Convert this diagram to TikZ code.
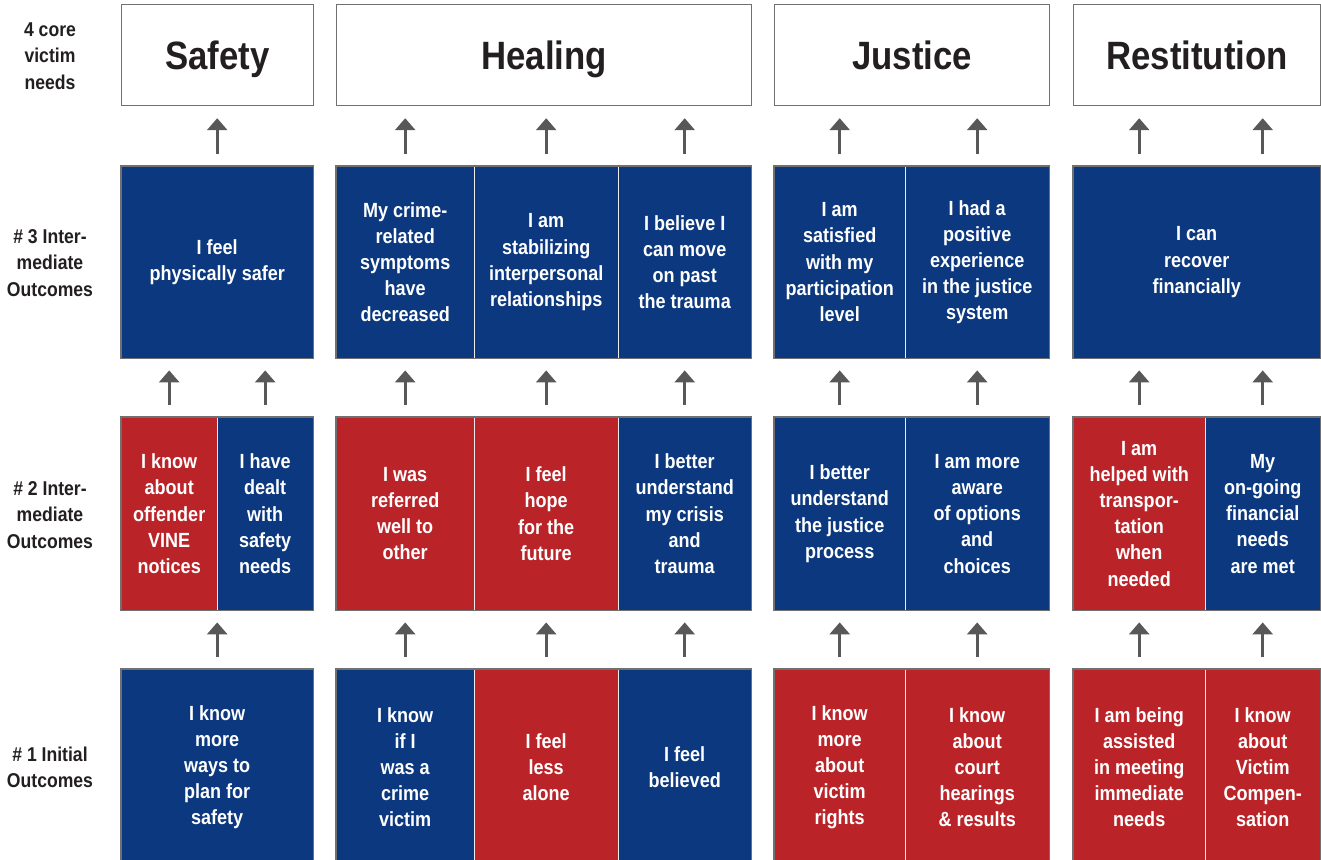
\documentclass[tikz,border=0pt]{standalone}
\usepackage{fontspec}
\setmainfont{Liberation Sans}[FakeStretch=0.88]
\usetikzlibrary{arrows.meta}
\definecolor{vblue}{RGB}{11,56,126}
\definecolor{vred}{RGB}{186,36,41}
\definecolor{bordergray}{RGB}{112,112,112}
\definecolor{arrowgray}{RGB}{88,88,88}
\definecolor{ink}{RGB}{35,31,32}
\begin{document}
\begin{tikzpicture}[x=1pt,y=-1pt,
  cell/.style={rectangle, inner sep=0pt, anchor=north west, align=center, text=white,
    font=\bfseries\fontsize{20.5}{26.2}\selectfont},
  bluecell/.style={cell, fill=vblue},
  redcell/.style={cell, fill=vred},
  head/.style={rectangle, draw=bordergray, line width=1.2pt, fill=white, inner sep=0pt,
    anchor=north west, text=ink, font=\bfseries\fontsize{39.5}{42}\selectfont,
    text height=28pt, text depth=0pt},
  rowlabel/.style={align=center, text=ink, font=\bfseries\fontsize{20}{26.3}\selectfont},
  up/.style={-{Triangle[width=20pt,length=12pt]}, draw=arrowgray, line width=2.8pt,
    shorten <=12pt, shorten >=12pt},
  outer/.style={draw=bordergray, line width=1.2pt},
  divider/.style={draw=white!85!gray, line width=1pt}]
\useasboundingbox (0,0) rectangle (1321,859);

% ---- row labels
\node[rowlabel] (l4) at (50,56) {4 core\\victim\\needs};
\node[rowlabel] (l3) at (50,263) {\# 3 Inter-\\mediate\\Outcomes};
\node[rowlabel] (l2) at (50,515) {\# 2 Inter-\\mediate\\Outcomes};
\node[rowlabel] (l1) at (50,767) {\# 1 Initial\\Outcomes};

% ---- headers
\node[head, minimum width=192, minimum height=101] (hs) at (121,4) {Safety};
\node[head, minimum width=415, minimum height=101] (hh) at (336,4) {Healing};
\node[head, minimum width=275, minimum height=101] (hj) at (774,4) {Justice};
\node[head, minimum width=247, minimum height=101] (hr) at (1073,4) {Restitution};

% ---- row 3
\node[bluecell, minimum width=192, minimum height=192] (s3) at (121,166) {I feel\\physically safer};
\node[bluecell, minimum width=138, minimum height=192] (h3a) at (336,166) {My crime-\\related\\symptoms\\have\\decreased};
\node[bluecell, minimum width=144, minimum height=192] (h3b) at (474,166) {I am\\stabilizing\\interpersonal\\relationships};
\node[bluecell, minimum width=133, minimum height=192] (h3c) at (618,166) {I believe I\\can move\\on past\\the trauma};
\node[bluecell, minimum width=131, minimum height=192] (j3a) at (774,166) {I am\\satisfied\\with my\\participation\\level};
\node[bluecell, minimum width=144, minimum height=192] (j3b) at (905,166) {I had a\\positive\\experience\\in the justice\\system};
\node[bluecell, minimum width=247, minimum height=192] (r3) at (1073,166) {I can\\recover\\financially};

% ---- row 2
\node[redcell, minimum width=96, minimum height=193] (s2a) at (121,417) {I know\\about\\offender\\VINE\\notices};
\node[bluecell, minimum width=96, minimum height=193] (s2b) at (217,417) {I have\\dealt\\with\\safety\\needs};
\node[redcell, minimum width=138, minimum height=193] (h2a) at (336,417) {I was\\referred\\well to\\other};
\node[redcell, minimum width=144, minimum height=193] (h2b) at (474,417) {I feel\\hope\\for the\\future};
\node[bluecell, minimum width=133, minimum height=193] (h2c) at (618,417) {I better\\understand\\my crisis\\and\\trauma};
\node[bluecell, minimum width=131, minimum height=193] (j2a) at (774,417) {I better\\understand\\the justice\\process};
\node[bluecell, minimum width=144, minimum height=193] (j2b) at (905,417) {I am more\\aware\\of options\\and\\choices};
\node[redcell, minimum width=132, minimum height=193] (r2a) at (1073,417) {I am\\helped with\\transpor-\\tation\\when\\needed};
\node[bluecell, minimum width=115, minimum height=193] (r2b) at (1205,417) {My\\on-going\\financial\\needs\\are met};

% ---- row 1 (runs off the bottom edge)
\node[bluecell, minimum width=192, minimum height=196] (s1) at (121,669) {I know\\more\\ways to\\plan for\\safety};
\node[bluecell, minimum width=138, minimum height=196] (h1a) at (336,669) {I know\\if I\\was a\\crime\\victim};
\node[redcell, minimum width=144, minimum height=196] (h1b) at (474,669) {I feel\\less\\alone};
\node[bluecell, minimum width=133, minimum height=196] (h1c) at (618,669) {I feel\\believed};
\node[redcell, minimum width=131, minimum height=196] (j1a) at (774,669) {I know\\more\\about\\victim\\rights};
\node[redcell, minimum width=144, minimum height=196] (j1b) at (905,669) {I know\\about\\court\\hearings\\\& results};
\node[redcell, minimum width=132, minimum height=196] (r1a) at (1073,669) {I am being\\assisted\\in meeting\\immediate\\needs};
\node[redcell, minimum width=115, minimum height=196] (r1b) at (1205,669) {I know\\about\\Victim\\Compen-\\sation};

% ---- dividers
\foreach \a/\b in {h3a/h3b, h3b/h3c, j3a/j3b, s2a/s2b, h2a/h2b, h2b/h2c, j2a/j2b, r2a/r2b,
                   h1a/h1b, h1b/h1c, j1a/j1b, r1a/r1b}
  \draw[divider] (\a.north east) -- (\a.south east);

% ---- outer borders
\draw[outer] (s3.north west) rectangle (s3.south east);
\draw[outer] (h3a.north west) rectangle (h3c.south east);
\draw[outer] (j3a.north west) rectangle (j3b.south east);
\draw[outer] (r3.north west) rectangle (r3.south east);
\draw[outer] (s2a.north west) rectangle (s2b.south east);
\draw[outer] (h2a.north west) rectangle (h2c.south east);
\draw[outer] (j2a.north west) rectangle (j2b.south east);
\draw[outer] (r2a.north west) rectangle (r2b.south east);
\draw[outer] (s1.south west) -- (s1.north west) -- (s1.north east) -- (s1.south east);
\draw[outer] (h1a.south west) -- (h1a.north west) -- (h1c.north east) -- (h1c.south east);
\draw[outer] (j1a.south west) -- (j1a.north west) -- (j1b.north east) -- (j1b.south east);
\draw[outer] (r1a.south west) -- (r1a.north west) -- (r1b.north east) -- (r1b.south east);

% ---- arrows row 3 -> headers
\draw[up] (s3.north) -- (s3.north |- hs.south);
\draw[up] (h3a.north) -- (h3a.north |- hh.south);
\draw[up] (h3b.north) -- (h3b.north |- hh.south);
\draw[up] (h3c.north) -- (h3c.north |- hh.south);
\draw[up] (j3a.north) -- (j3a.north |- hj.south);
\draw[up] (j3b.north) -- (j3b.north |- hj.south);
\draw[up] (r3.north -| r2a) -- (hr.south -| r2a);
\draw[up] (r3.north -| r2b) -- (hr.south -| r2b);

% ---- arrows row 2 -> row 3
\draw[up] (s2a.north) -- (s2a.north |- s3.south);
\draw[up] (s2b.north) -- (s2b.north |- s3.south);
\draw[up] (h2a.north) -- (h3a.south);
\draw[up] (h2b.north) -- (h3b.south);
\draw[up] (h2c.north) -- (h3c.south);
\draw[up] (j2a.north) -- (j3a.south);
\draw[up] (j2b.north) -- (j3b.south);
\draw[up] (r2a.north) -- (r2a.north |- r3.south);
\draw[up] (r2b.north) -- (r2b.north |- r3.south);

% ---- arrows row 1 -> row 2
\draw[up] (s1.north) -- (s1.north |- s2a.south);
\draw[up] (h1a.north) -- (h2a.south);
\draw[up] (h1b.north) -- (h2b.south);
\draw[up] (h1c.north) -- (h2c.south);
\draw[up] (j1a.north) -- (j2a.south);
\draw[up] (j1b.north) -- (j2b.south);
\draw[up] (r1a.north) -- (r2a.south);
\draw[up] (r1b.north) -- (r2b.south);
\end{tikzpicture}
\end{document}
